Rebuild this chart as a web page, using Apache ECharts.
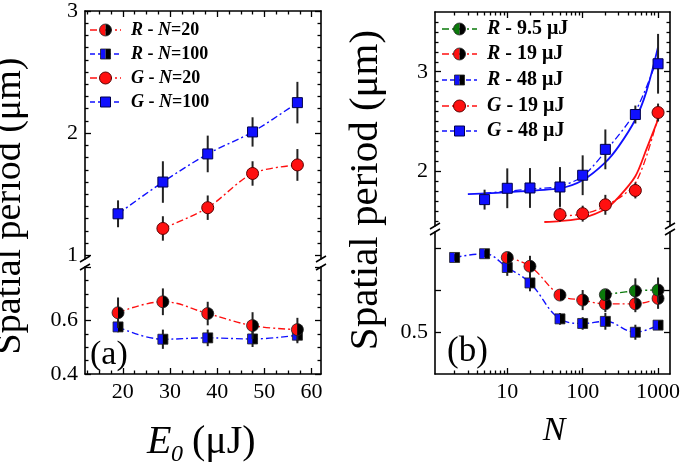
<!DOCTYPE html>
<html><head><meta charset="utf-8">
<script src="https://cdn.jsdelivr.net/npm/echarts@6/dist/echarts.min.js"></script>
<style>html,body{margin:0;padding:0;background:#fff}#c{width:685px;height:469px}</style>
</head><body><div id="c"></div>
<script>
// ---------------- data: panel (a) ----------------
const energiesA = [19, 28.5, 38, 47.5, 57];
const gN100 = [1.34, 1.60, 1.83, 2.01, 2.25];
const gN100Err = [0.11, 0.17, 0.15, 0.12, 0.17];
const gN20E = [28.5, 38, 47.5, 57];
const gN20 = [1.22, 1.39, 1.67, 1.74];
const gN20Err = [0.10, 0.10, 0.10, 0.13];
const rN20 = [0.629, 0.670, 0.626, 0.581, 0.566];
const rN20Err = [0.057, 0.05, 0.044, 0.05, 0.044];
const rN100 = [0.576, 0.530, 0.535, 0.531, 0.545];
const rN100Err = [0.02, 0.036, 0.031, 0.03, 0.03];

// ---------------- data: panel (b) ----------------
const pulsesB = [2, 5, 10, 20, 50, 100, 200, 500, 1000];
const r48 = [0.679, 0.688, 0.655, 0.618, 0.532, 0.521, 0.526, 0.500, 0.517];
const r48Err = [0.008, 0.008, 0.02, 0.02, 0.014, 0.015, 0.02, 0.018, 0.008];
const r19N = [10, 20, 50, 100, 200, 500, 1000];
const r19 = [0.679, 0.658, 0.589, 0.577, 0.568, 0.568, 0.581];
const r19Err = [0.008, 0.025, 0.01, 0.024, 0.02, 0.02, 0.025];
const r95N = [200, 500, 1000];
const r95 = [0.590, 0.599, 0.601];
const r95Err = [0.01, 0.03, 0.03];
const g48N = [5, 10, 20, 50, 100, 200, 500, 1000];
const g48 = [1.715, 1.829, 1.832, 1.842, 1.96, 2.22, 2.57, 3.08];
const g48Err = [0.1, 0.2, 0.2, 0.2, 0.2, 0.2, 0.09, 0.3];
const g19N = [50, 100, 200, 500, 1000];
const g19 = [1.564, 1.574, 1.663, 1.807, 2.59];
const g19Err = [0.07, 0.08, 0.1, 0.08, 0.09];
// solid fit curves
const fitG48N = [3, 10, 50, 100, 200, 300, 500, 700, 1000];
const fitG48 = [1.77, 1.79, 1.83, 1.91, 2.09, 2.25, 2.52, 2.80, 3.25];
const fitG19N = [31, 50, 100, 200, 300, 500, 700, 1000];
const fitG19 = [1.49, 1.50, 1.53, 1.62, 1.74, 1.95, 2.22, 2.52];
// dash-dot guide curves in upper (b)
const guideG48N = [5, 10, 20, 50, 100, 200, 500, 1000];
const guideG48 = [1.78, 1.80, 1.82, 1.85, 1.95, 2.2, 2.6, 3.15];
const guideG19N = [50, 100, 200, 500, 1000];
const guideG19 = [1.55, 1.57, 1.65, 1.88, 2.55];

// ---------------- tick values ----------------
const xTicksA = [20, 30, 40, 50, 60];
const xMinorA = [12.5, 15, 17.5, 22.5, 25, 27.5, 32.5, 35, 37.5, 42.5, 45, 47.5, 52.5, 55, 57.5];
const xTicksB = [10, 100, 1000];
const xMinorB = [2, 3, 4, 5, 6, 7, 8, 9, 20, 30, 40, 50, 60, 70, 80, 90, 200, 300, 400, 500, 600, 700, 800, 900];
const yTicksAU = [1, 2, 3];
const yMinorAU = [1.1, 1.2, 1.3, 1.4, 1.5, 1.6, 1.7, 1.8, 1.9, 2.1, 2.2, 2.3, 2.4, 2.5, 2.6, 2.7, 2.8, 2.9];
const yTicksAL = [0.4, 0.6, 0.8];
const yLabelsAL = [0.4, 0.6];
const yMinorAL = [0.45, 0.5, 0.55, 0.65, 0.7, 0.75];
const yTicksBU = [2, 3];
const yMinorBU = [1.5, 1.6, 1.7, 1.8, 1.9, 2.1, 2.2, 2.3, 2.4, 2.5, 2.6, 2.7, 2.8, 2.9, 3.1, 3.2, 3.3, 3.4, 3.5];
const yTicksBL = [0.5, 0.6, 0.7];
const yLabelsBL = [0.5];

const FONT = 'Liberation Serif';
const RED = '#ff1010', BLUE = '#1010ff', GREEN = '#0a7a0a';
const DASHDOT = [7, 3, 2, 3];

const grids = [
  {left: 85, top: 11, width: 236, height: 248},
  {left: 85, top: 267, width: 236, height: 107},
  {left: 435, top: 12, width: 235, height: 214},
  {left: 435, top: 232, width: 235, height: 142}
];

function ax(grid, type, min, max, pos, line, ticks, len, labels) {
  return {
    gridIndex: grid, type: type, min: min, max: max, position: pos,
    logBase: 10,
    axisLine: {show: line, onZero: false, lineStyle: {color: '#000', width: 1.6}},
    axisTick: ticks && ticks.length ? {show: true, inside: true, length: len, customValues: ticks,
      lineStyle: {color: '#000', width: 1.3}} : {show: false},
    axisLabel: labels ? {show: true, customValues: labels, fontFamily: FONT, fontSize: 22,
      color: '#000', margin: 7, formatter: v => String(v)} : {show: false},
    splitLine: {show: false}, minorTick: {show: false}
  };
}
const xAxes = [
  ax(0, 'value', 12, 62, 'top', true, xTicksA, 6),
  ax(0, 'value', 12, 62, 'top', false, xMinorA, 3.5),
  ax(1, 'value', 12, 62, 'bottom', true, xTicksA, 6, xTicksA),
  ax(1, 'value', 12, 62, 'bottom', false, xMinorA, 3.5),
  ax(2, 'log', 1.1, 1440, 'top', true, xTicksB, 6),
  ax(2, 'log', 1.1, 1440, 'top', false, xMinorB, 3.5),
  ax(3, 'log', 1.1, 1440, 'bottom', true, xTicksB, 6, xTicksB),
  ax(3, 'log', 1.1, 1440, 'bottom', false, xMinorB, 3.5)
];
const yAxes = [
  ax(0, 'value', 0.97, 3, 'left', true, yTicksAU, 6, yTicksAU),
  ax(0, 'value', 0.97, 3, 'left', false, yMinorAU, 3.5),
  ax(0, 'value', 0.97, 3, 'right', true, yTicksAU, 6),
  ax(0, 'value', 0.97, 3, 'right', false, yMinorAU, 3.5),
  ax(1, 'value', 0.4, 0.8, 'left', true, yTicksAL, 6, yLabelsAL),
  ax(1, 'value', 0.4, 0.8, 'left', false, yMinorAL, 3.5),
  ax(1, 'value', 0.4, 0.8, 'right', true, yTicksAL, 6),
  ax(1, 'value', 0.4, 0.8, 'right', false, yMinorAL, 3.5),
  ax(2, 'value', 1.45, 3.6, 'left', true, yTicksBU, 6, yTicksBU),
  ax(2, 'value', 1.45, 3.6, 'left', false, yMinorBU, 3.5),
  ax(2, 'value', 1.45, 3.6, 'right', true, yTicksBU, 6),
  ax(2, 'value', 1.45, 3.6, 'right', false, yMinorBU, 3.5),
  ax(3, 'value', 0.4, 0.74, 'left', true, yTicksBL, 6, yLabelsBL),
  ax(3, 'value', 0.4, 0.74, 'left', false, [], 3.5),
  ax(3, 'value', 0.4, 0.74, 'right', true, yTicksBL, 6),
  ax(3, 'value', 0.4, 0.74, 'right', false, [], 3.5)
];
const AXES = [[0, 0], [2, 4], [4, 8], [6, 12]];

function markerShapes(kind, color, cx, cy) {
  const out = [];
  if (kind === 'halfCircle') {
    const r = 6;
    out.push({type: 'sector', shape: {cx: cx, cy: cy, r0: 0, r: r, startAngle: Math.PI / 2, endAngle: Math.PI * 1.5}, style: {fill: color}});
    out.push({type: 'sector', shape: {cx: cx, cy: cy, r0: 0, r: r, startAngle: -Math.PI / 2, endAngle: Math.PI / 2}, style: {fill: '#000'}});
    out.push({type: 'circle', shape: {cx: cx, cy: cy, r: r}, style: {fill: 'none', stroke: '#222', lineWidth: 0.8}});
  } else if (kind === 'halfSquare') {
    const h = 5;
    out.push({type: 'rect', shape: {x: cx - h, y: cy - h, width: h, height: 2 * h}, style: {fill: color}});
    out.push({type: 'rect', shape: {x: cx, y: cy - h, width: h, height: 2 * h}, style: {fill: '#000'}});
    out.push({type: 'rect', shape: {x: cx - h, y: cy - h, width: 2 * h, height: 2 * h}, style: {fill: 'none', stroke: '#222', lineWidth: 0.8}});
  } else if (kind === 'circle') {
    out.push({type: 'circle', shape: {cx: cx, cy: cy, r: 6}, style: {fill: color, stroke: '#5a0000', lineWidth: 1}});
  } else {
    out.push({type: 'rect', shape: {x: cx - 5, y: cy - 5, width: 10, height: 10}, style: {fill: color, stroke: '#00004a', lineWidth: 1}});
  }
  return out;
}

function errSeries(g, xs, ys, es, kind, color) {
  return {
    type: 'custom', xAxisIndex: AXES[g][0], yAxisIndex: AXES[g][1], z: 5,
    data: xs.map((x, i) => [x, ys[i], es[i]]),
    encode: {x: 0, y: 1},
    renderItem: function (params, api) {
      const x = api.value(0), y = api.value(1), e = api.value(2);
      const p = api.coord([x, y]);
      const t = api.coord([x, y + e]);
      const b = api.coord([x, y - e]);
      const children = [{type: 'line', shape: {x1: p[0], y1: t[1], x2: p[0], y2: b[1]},
        style: {stroke: '#222', lineWidth: 2}}];
      return {type: 'group', children: children.concat(markerShapes(kind, color, p[0], p[1]))};
    }
  };
}
function lineSeries(g, xs, ys, color, dash, width, smooth) {
  return {
    type: 'line', xAxisIndex: AXES[g][0], yAxisIndex: AXES[g][1], z: 3,
    data: xs.map((x, i) => [x, ys[i]]), smooth: smooth, symbol: 'none', silent: true,
    lineStyle: {color: color, width: width, type: dash}
  };
}

const series = [
  lineSeries(0, energiesA, gN100, BLUE, DASHDOT, 1.4, 0.3),
  lineSeries(0, gN20E, gN20, RED, DASHDOT, 1.4, 0.3),
  errSeries(0, energiesA, gN100, gN100Err, 'square', BLUE),
  errSeries(0, gN20E, gN20, gN20Err, 'circle', RED),
  lineSeries(1, energiesA, rN20, RED, DASHDOT, 1.4, 0.4),
  lineSeries(1, energiesA, rN100, BLUE, DASHDOT, 1.4, 0.4),
  errSeries(1, energiesA, rN100, rN100Err, 'halfSquare', BLUE),
  errSeries(1, energiesA, rN20, rN20Err, 'halfCircle', RED),
  lineSeries(2, fitG48N, fitG48, BLUE, 'solid', 1.8, 0.3),
  lineSeries(2, fitG19N, fitG19, RED, 'solid', 1.8, 0.3),
  lineSeries(2, guideG48N, guideG48, BLUE, DASHDOT, 1.3, 0.3),
  lineSeries(2, guideG19N, guideG19, RED, DASHDOT, 1.3, 0.3),
  errSeries(2, g48N, g48, g48Err, 'square', BLUE),
  errSeries(2, g19N, g19, g19Err, 'circle', RED),
  lineSeries(3, pulsesB, r48, BLUE, DASHDOT, 1.4, 0.4),
  lineSeries(3, r19N, r19, RED, DASHDOT, 1.4, 0.4),
  lineSeries(3, r95N, r95, GREEN, DASHDOT, 1.4, 0.4),
  errSeries(3, pulsesB, r48, r48Err, 'halfSquare', BLUE),
  errSeries(3, r19N, r19, r19Err, 'halfCircle', RED),
  errSeries(3, r95N, r95, r95Err, 'halfCircle', GREEN)
];

// ---------------- decorations: breaks, titles, legends ----------------
const graphics = [];
function brk(x, y) {
  graphics.push({type: 'line', shape: {x1: x - 5, y1: y + 3, x2: x + 5, y2: y - 3},
    style: {stroke: '#000', lineWidth: 1.5}, z: 10});
}
[[85, 259], [85, 267], [321, 259], [321, 267], [435, 226], [435, 232], [670, 226], [670, 232]]
  .forEach(p => brk(p[0], p[1]));

function txt(x, y, text, size, opts) {
  graphics.push(Object.assign({type: 'text', x: x, y: y, z: 10,
    style: Object.assign({text: text, font: size + 'px "' + FONT + '"', fill: '#000',
      align: 'left', verticalAlign: 'middle'}, (opts && opts.style) || {})},
    (opts && opts.el) || {}));
}
txt(10, 206, 'Spatial period (μm)', 38, {style: {align: 'center'}, el: {rotation: Math.PI / 2}});
txt(366, 190, 'Spatial period (μm)', 41, {style: {align: 'center'}, el: {rotation: Math.PI / 2}});
txt(147, 442, 'E', 40, {style: {font: 'italic 40px "' + FONT + '"'}});
txt(171, 455, '0', 24, {style: {font: 'italic 24px "' + FONT + '"'}});
txt(182, 442, ' (μJ)', 40);
txt(554, 431, 'N', 34, {style: {align: 'center', font: 'italic 34px "' + FONT + '"'}});
txt(90, 355, '(a)', 34);
txt(447, 352, '(b)', 35);

function legendEntry(x0, x1, y, kind, color, dash, textX, rich, size) {
  graphics.push({type: 'line', shape: {x1: x0, y1: y, x2: x1, y2: y},
    style: {stroke: color, lineWidth: 1.4, lineDash: dash}, z: 10});
  markerShapes(kind, color, (x0 + x1) / 2, y).forEach(s => { s.z = 11; graphics.push(s); });
  const fb = size + 'px "' + FONT + '"';
  graphics.push({type: 'text', x: textX, y: y, z: 11, style: {
    text: rich, verticalAlign: 'middle', align: 'left', fill: '#000',
    rich: {
      i: {fontFamily: FONT, fontSize: size, fontWeight: 'bold', fontStyle: 'italic', fill: '#000'},
      b: {fontFamily: FONT, fontSize: size, fontWeight: 'bold', fill: '#000'}
    }, font: 'bold ' + fb}});
}
legendEntry(90, 121, 30, 'halfCircle', RED, DASHDOT, 131, '{i|R}{b| - }{i|N}{b|=20}', 18);
legendEntry(90, 121, 54, 'halfSquare', BLUE, [5, 3], 131, '{i|R}{b| - }{i|N}{b|=100}', 18);
legendEntry(90, 121, 78, 'circle', RED, DASHDOT, 131, '{i|G}{b| - }{i|N}{b|=20}', 18);
legendEntry(90, 121, 102, 'square', BLUE, [5, 3], 131, '{i|G}{b| - }{i|N}{b|=100}', 18);
legendEntry(442, 477, 29, 'halfCircle', GREEN, DASHDOT, 487, '{i|R}{b| - 9.5 μJ}', 20);
legendEntry(442, 477, 54, 'halfCircle', RED, DASHDOT, 487, '{i|R}{b| - 19 μJ}', 20);
legendEntry(442, 477, 80, 'halfSquare', BLUE, [5, 3], 487, '{i|R}{b| - 48 μJ}', 20);
legendEntry(442, 477, 106, 'circle', RED, DASHDOT, 487, '{i|G}{b| - 19 μJ}', 20);
legendEntry(442, 477, 131, 'square', BLUE, [5, 3], 487, '{i|G}{b| - 48 μJ}', 20);

const chart = echarts.init(document.getElementById('c'), null, {renderer: 'canvas'});
chart.setOption({
  animation: false,
  backgroundColor: '#fff',
  grid: grids.map(g => Object.assign({outerBoundsMode: 'none', containLabel: false}, g)),
  xAxis: xAxes,
  yAxis: yAxes,
  series: series,
  graphic: {elements: graphics}
});
</script></body></html>
